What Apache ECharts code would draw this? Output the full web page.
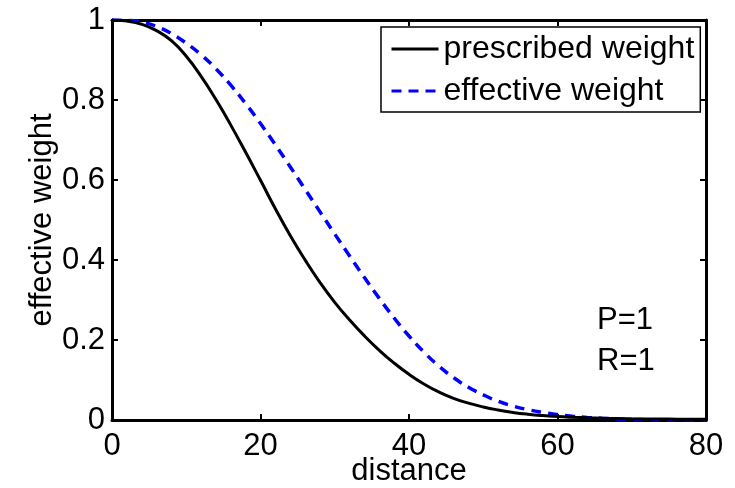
<!DOCTYPE html>
<html>
<head>
<meta charset="utf-8">
<script src="https://cdn.jsdelivr.net/npm/echarts@6/dist/echarts.min.js"></script>
<style>html,body{margin:0;padding:0;background:#fff}#c{width:735px;height:488px}</style>
</head>
<body>
<div id="c"></div>
<script>
var distance = [0,2,4,6,8,10,12,14,16,18,20,22,24,26,28,30,32,34,36,38,40,42,44,46,48,50,52,54,56,58,60,62,64,66,68,70,72,74,76,78,80];
var prescribedWeight = [1,0.9974,0.9894,0.9734,0.9482,0.9092,0.8592,0.8012,0.7372,0.6692,0.5992,0.5282,0.4612,0.4002,0.3442,0.2942,0.2502,0.2102,0.1742,0.1422,0.1142,0.0902,0.0702,0.0542,0.0422,0.0326,0.025,0.019,0.0144,0.011,0.0086,0.0068,0.0054,0.0044,0.0036,0.003,0.0026,0.0023,0.0021,0.0019,0.0018];
var effectiveWeight = [1,0.999,0.995,0.984,0.966,0.942,0.913,0.878,0.837,0.791,0.741,0.688,0.633,0.577,0.521,0.465,0.410,0.356,0.304,0.255,0.210,0.170,0.135,0.106,0.082,0.063,0.047,0.035,0.026,0.019,0.0135,0.0095,0.0065,0.0043,0.0027,0.0016,0.0009,0.0004,0.0002,0.0001,0];
var seriesNames = ['prescribed weight','effective weight'];
var xTitle = 'distance', yTitle = 'effective weight';
var notes = ['P=1','R=1'];

function pairs(ys){ return distance.map(function(d,i){ return [d, ys[i]]; }); }

var FONT = '"Liberation Sans", Arial, Helvetica, sans-serif';
var FS = 31;
var axisCommon = {
  type:'value',
  axisLine:{show:true, onZero:false, lineStyle:{color:'#000', width:3}},
  axisTick:{show:true, inside:true, length:6, lineStyle:{color:'#000', width:2}},
  splitLine:{show:false}
};
var chart = echarts.init(document.getElementById('c'), null, {renderer:'canvas'});
chart.setOption({
  animation:false,
  backgroundColor:'#fff',
  textStyle:{fontFamily:FONT},
  grid:{left:112, right:29, top:20, bottom:68, containLabel:false, outerBoundsMode:'none'},
  xAxis:[
    Object.assign({}, axisCommon, {position:'bottom', min:0, max:80, interval:20,
      name:xTitle, nameLocation:'middle', nameGap:36, nameMoveOverlap:false,
      nameTextStyle:{color:'#000', fontSize:FS, fontFamily:FONT},
      axisLabel:{color:'#000', fontSize:FS, fontFamily:FONT, margin:11}}),
    Object.assign({}, axisCommon, {position:'top', min:0, max:80, interval:20,
      axisLabel:{show:false}})
  ],
  yAxis:[
    Object.assign({}, axisCommon, {position:'left', min:0, max:1, interval:0.2,
      name:yTitle, nameLocation:'middle', nameGap:54, nameRotate:90, nameMoveOverlap:false,
      nameTextStyle:{color:'#000', fontSize:FS, fontFamily:FONT},
      axisLabel:{color:'#000', fontSize:FS, fontFamily:FONT, margin:7}}),
    Object.assign({}, axisCommon, {position:'right', min:0, max:1, interval:0.2,
      axisLabel:{show:false}})
  ],
  legend:{
    orient:'vertical', left:381, top:27,
    backgroundColor:'#fff', borderColor:'#000', borderWidth:1.5,
    padding:[6,6,5,9], itemGap:10, itemWidth:47, itemHeight:30,
    itemStyle:{opacity:0, borderWidth:0},
    lineStyle:{width:3},
    textStyle:{color:'#000', fontSize:32, fontFamily:FONT, lineHeight:30},
    data:seriesNames
  },
  graphic:[
    {type:'text', left:597, top:305, style:{text:notes[0], fill:'#000', font:FS+'px '+FONT}},
    {type:'text', left:597, top:346, style:{text:notes[1], fill:'#000', font:FS+'px '+FONT}}
  ],
  series:[
    {name:seriesNames[0], type:'line', smooth:true, symbol:'none', data:pairs(prescribedWeight),
      lineStyle:{color:'#000', width:3}, itemStyle:{color:'#000'}, z:3},
    {name:seriesNames[1], type:'line', smooth:true, symbol:'none', data:pairs(effectiveWeight),
      lineStyle:{color:'#0000ff', width:3.5, type:[10,7]}, itemStyle:{color:'#0000ff'}, z:2}
  ]
});
</script>
</body>
</html>
